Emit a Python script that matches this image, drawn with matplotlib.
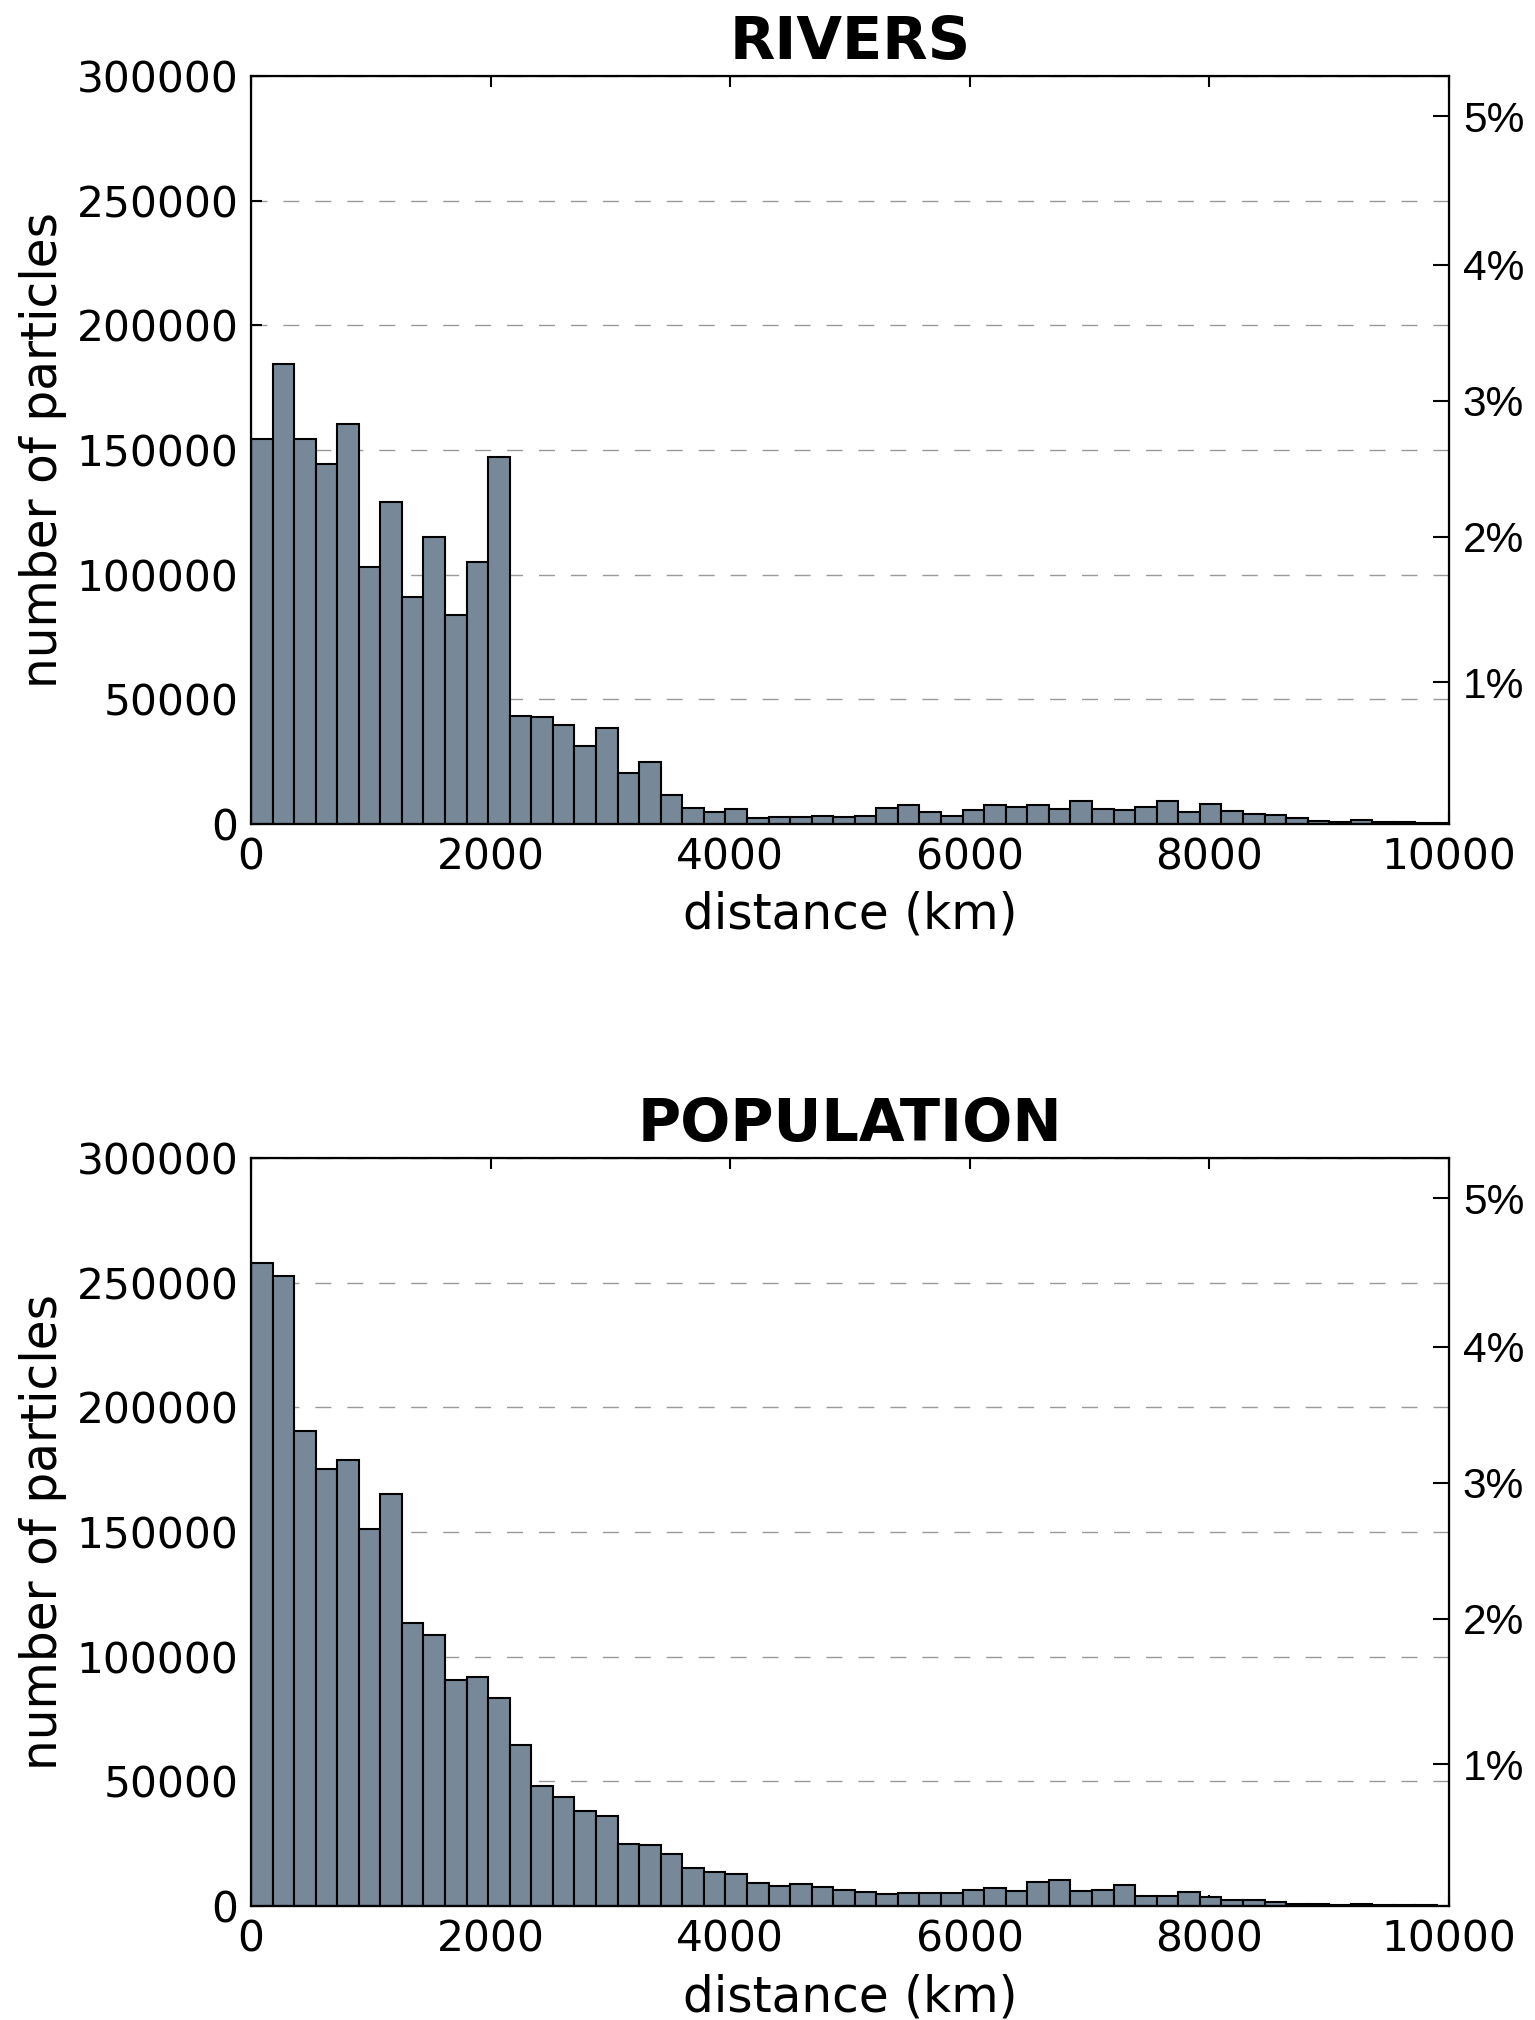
import numpy as np
import matplotlib
matplotlib.use("Agg")
import matplotlib.pyplot as plt

# histogram counts per distance bin
bin_width_km = 180
rivers_counts = [
    154400, 184400, 154400, 144400, 160300, 103100, 129100, 91200, 115000, 83800,
    105200, 147000, 43300, 42800, 39700, 31300, 38400, 20600, 25000, 11600,
    6300, 4700, 6000, 2500, 2900, 2900, 3200, 2900, 3300, 6300,
    7600, 4800, 3100, 5700, 7500, 6900, 7800, 6100, 9200, 6000,
    5700, 6900, 9200, 4700, 8100, 5200, 3900, 3500, 2200, 1100,
    600, 1700, 900, 600, 400, 300,
]
population_counts = [
    258000, 252900, 190500, 175300, 178900, 151200, 165100, 113400, 108900, 90800,
    91700, 83500, 64700, 48200, 43700, 38000, 36000, 24700, 24400, 20700,
    15200, 13500, 12900, 9200, 8000, 8800, 7700, 6500, 5700, 4800,
    5200, 5100, 5100, 6500, 7300, 5900, 9500, 10400, 6000, 6400,
    8500, 4000, 4000, 5700, 3700, 2400, 2400, 1500, 800, 700,
    500, 800, 600, 400, 300, 200,
]
panel_titles = ["RIVERS", "POPULATION"]

# total number of particles used for the percentage axis
n_particles = 5_678_000

count_ticks = [0, 50000, 100000, 150000, 200000, 250000, 300000]
distance_ticks = [0, 2000, 4000, 6000, 8000, 10000]
# percent ticks sit slightly off-linear in the original
percent_tick_pos = [1.0, 2.03, 2.99, 3.95, 5.0]
percent_tick_labels = ["1%", "2%", "3%", "4%", "5%"]


def draw_panel(ax, counts, title):
    edges = np.arange(len(counts) + 1) * bin_width_km
    ax.bar(edges[:-1], counts, width=bin_width_km, align="edge",
           color="lightslategray", edgecolor="black", linewidth=1.5, zorder=2)
    ax.set_xlim(0, 10000)
    ax.set_ylim(0, 300000)
    ax.set_xticks(distance_ticks)
    ax.set_yticks(count_ticks)
    ax.set_axisbelow(True)
    ax.yaxis.grid(True, color="#999999", linewidth=1.0, dashes=(11.5, 11.5))
    ax.tick_params(direction="in", top=True, right=True, length=8, width=1.5,
                   labelsize=30.5, pad=9)
    for s in ax.spines.values():
        s.set_linewidth(1.6)
    ax.set_xlabel("distance (km)", fontsize=35, labelpad=9)
    ax.set_ylabel("number of particles", fontsize=35, labelpad=7)
    ax.set_title(title, fontsize=42.5, fontweight="bold", pad=12)

    ax2 = ax.twinx()
    ax2.set_ylim(0, 300000 / n_particles * 100)
    ax2.set_yticks(percent_tick_pos)
    ax2.set_yticklabels(percent_tick_labels, fontfamily="Liberation Sans",
                        fontsize=30.5)
    ax2.tick_params(direction="in", length=11.5, width=1.5, pad=10)
    return ax2


fig = plt.figure(figsize=(15.35, 20.2), dpi=100)
ax_top = fig.add_axes([0.1635, 0.5921, 0.7805, 0.3703])
ax_bot = fig.add_axes([0.1635, 0.0564, 0.7805, 0.3703])
draw_panel(ax_top, rivers_counts, panel_titles[0])
draw_panel(ax_bot, population_counts, panel_titles[1])

fig.savefig("out.png", dpi=100)
